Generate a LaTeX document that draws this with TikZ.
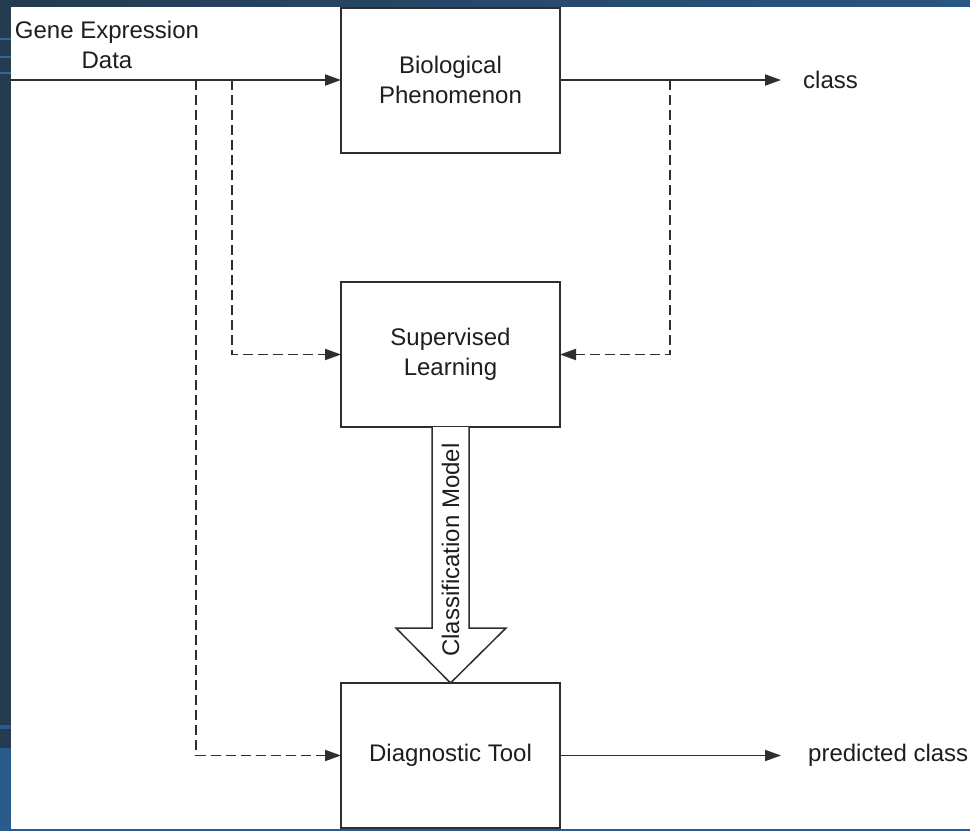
\documentclass[tikz,border=0pt]{standalone}
\usepackage{fontspec}
\setmainfont{Liberation Sans}
\usetikzlibrary{arrows.meta}
\definecolor{frame}{HTML}{243B50}
\definecolor{frameblue}{HTML}{2A5A8C}
\definecolor{stripe}{HTML}{2F67A0}
\definecolor{ink}{HTML}{1E1E1E}
\definecolor{edge}{HTML}{2E2E2E}
\begin{document}
\begin{tikzpicture}[x=1pt,y=-1pt,
  every node/.style={font=\fontsize{24}{30}\selectfont, text=ink},
  block/.style={draw=edge, line width=2pt, fill=white, minimum width=219pt,
    minimum height=145pt, inner sep=0pt, outer sep=0pt, align=center},
  label/.style={inner sep=0pt, align=center},
  flow/.style={draw=edge, line width=1.9pt, -{Triangle[length=16pt,width=11pt]}},
  dflow/.style={flow, dash pattern=on 10pt off 5pt}]
  % page frame
  \useasboundingbox (0,0) rectangle (970,831);
  \fill[frame] (0,0) rectangle (970,831);
  \shade[left color=frame, right color=frameblue!85!frame] (0,0) rectangle (970,7);
  \fill[frameblue] (0,748) rectangle (11,831);
  \fill[frameblue] (0,725) rectangle (11,729);
  \fill[frameblue] (0,829) rectangle (970,831);
  \foreach \yy in {39,57,73} \fill[stripe] (0,\yy-1) rectangle (11,\yy+1);
  \fill[white] (11,7) rectangle (970,829);

  % blocks
  \node[block] (bio) at (450.5,80) {Biological\\Phenomenon};
  \node[block] (sl) at (450.5,354.5) {Supervised\\Learning};
  \node[block] (dt) at (450.5,755.5) {Diagnostic Tool};

  % labels
  \node[label] (ged) at (107,45) {Gene Expression\\Data};
  \node[label, anchor=west] (cls) at (803,80) {class};
  \node[label, anchor=west] (pcls) at (808,755.5) {predicted class};

  % connector end points
  \coordinate (src) at (11,80);
  \coordinate (s1) at (196,80);
  \coordinate (s2) at (232,80);
  \coordinate (s3) at (670,80);
  \coordinate (c1) at (781,80);
  \coordinate (c2) at (781,755.5);

  % solid flows
  \draw[flow] (src) -- (bio.west);
  \draw[flow] (bio.east) -- (c1);
  \draw[flow] (dt.east) -- (c2);

  % dashed flows
  \draw[dflow] (s1) |- (dt.west);
  \draw[dflow] (s2) |- (sl.west);
  \draw[dflow] (s3) |- (sl.east);

  % block arrow carrying the model
  \draw[draw=edge, line width=1.5pt, fill=white, line join=miter]
    ([xshift=-18.5pt]sl.south) -- ++(0,201) -- ++(-36,0)
    -- (dt.north) -- ++(55.5,-55) -- ++(-37,0) -- ([xshift=18.5pt]sl.south);
  \node[label, rotate=90] (cm) at (450.5,550) {Classification Model};
\end{tikzpicture}
\end{document}
